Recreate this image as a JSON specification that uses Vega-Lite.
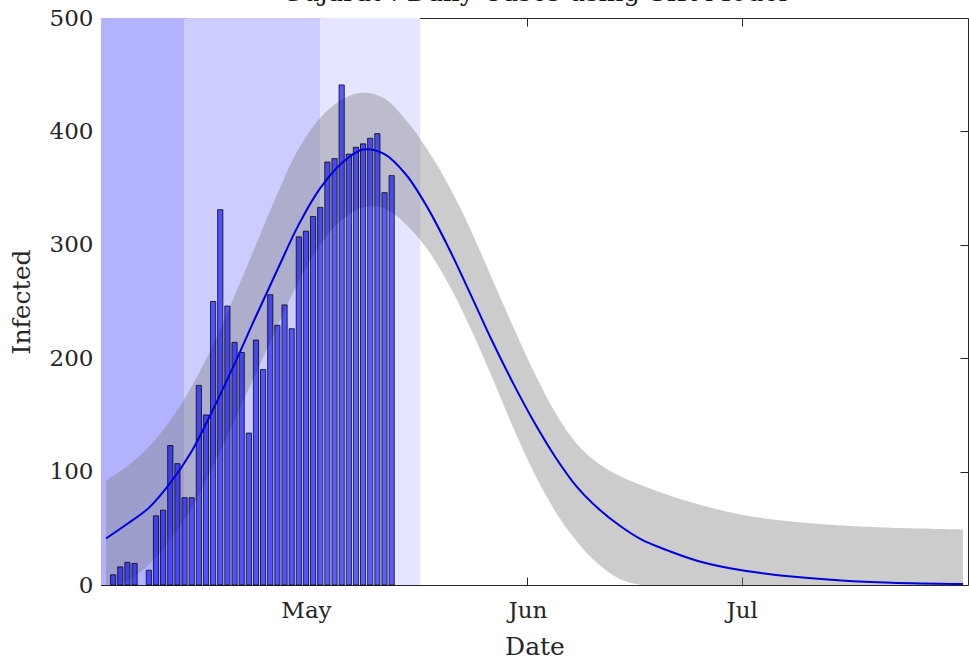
{
  "$schema": "https://vega.github.io/schema/vega-lite/v6.json",
  "width": 867,
  "height": 567,
  "autosize": {"type": "none"},
  "padding": {"left": 101, "top": 18, "right": 1, "bottom": 74},
  "background": "white",
  "title": {"text": "Gujarat : Daily Cases using SIR Model", "font": "DejaVu Serif", "fontSize": 26, "fontWeight": "normal", "color": "#1a1a1a", "anchor": "middle", "baseline": "alphabetic", "offset": 0, "dy": 20},
  "config": {
    "view": {"stroke": null},
    "axis": {"grid": false, "domainColor": "#262626", "domainWidth": 1, "tickColor": "#262626", "tickWidth": 1, "labelColor": "#262626", "titleColor": "#262626", "labelFont": "DejaVu Serif", "titleFont": "DejaVu Serif", "labelFontSize": 23, "titleFontSize": 25, "titleFontWeight": "normal"}
  },
  "datasets": {
    "phases": [
      {"start": "2020-03-25T00:00", "end": "2020-04-14T00:00", "phase": "Lockdown 1"},
      {"start": "2020-04-14T00:00", "end": "2020-05-03T00:00", "phase": "Lockdown 2"},
      {"start": "2020-05-03T00:00", "end": "2020-05-17T00:00", "phase": "Lockdown 3"}
    ],
    "cases": [
      {"date": "2020-04-04T00:00", "infected": 9},
      {"date": "2020-04-05T00:00", "infected": 16},
      {"date": "2020-04-06T00:00", "infected": 20},
      {"date": "2020-04-07T00:00", "infected": 19},
      {"date": "2020-04-09T00:00", "infected": 13},
      {"date": "2020-04-10T00:00", "infected": 61},
      {"date": "2020-04-11T00:00", "infected": 66},
      {"date": "2020-04-12T00:00", "infected": 123},
      {"date": "2020-04-13T00:00", "infected": 107},
      {"date": "2020-04-14T00:00", "infected": 77},
      {"date": "2020-04-15T00:00", "infected": 77},
      {"date": "2020-04-16T00:00", "infected": 176},
      {"date": "2020-04-17T00:00", "infected": 150},
      {"date": "2020-04-18T00:00", "infected": 250},
      {"date": "2020-04-19T00:00", "infected": 331},
      {"date": "2020-04-20T00:00", "infected": 246},
      {"date": "2020-04-21T00:00", "infected": 214},
      {"date": "2020-04-22T00:00", "infected": 205},
      {"date": "2020-04-23T00:00", "infected": 134},
      {"date": "2020-04-24T00:00", "infected": 216},
      {"date": "2020-04-25T00:00", "infected": 190},
      {"date": "2020-04-26T00:00", "infected": 256},
      {"date": "2020-04-27T00:00", "infected": 229},
      {"date": "2020-04-28T00:00", "infected": 247},
      {"date": "2020-04-29T00:00", "infected": 226},
      {"date": "2020-04-30T00:00", "infected": 307},
      {"date": "2020-05-01T00:00", "infected": 312},
      {"date": "2020-05-02T00:00", "infected": 325},
      {"date": "2020-05-03T00:00", "infected": 333},
      {"date": "2020-05-04T00:00", "infected": 373},
      {"date": "2020-05-05T00:00", "infected": 376},
      {"date": "2020-05-06T00:00", "infected": 441},
      {"date": "2020-05-07T00:00", "infected": 380},
      {"date": "2020-05-08T00:00", "infected": 386},
      {"date": "2020-05-09T00:00", "infected": 389},
      {"date": "2020-05-10T00:00", "infected": 394},
      {"date": "2020-05-11T00:00", "infected": 398},
      {"date": "2020-05-12T00:00", "infected": 346},
      {"date": "2020-05-13T00:00", "infected": 361}
    ],
    "model": [
      {"date": "2020-04-03T00:00", "fit": 41, "lower": 0, "upper": 92},
      {"date": "2020-04-06T00:00", "fit": 54, "lower": 4, "upper": 105},
      {"date": "2020-04-09T00:00", "fit": 68, "lower": 18, "upper": 122},
      {"date": "2020-04-12T00:00", "fit": 90, "lower": 40, "upper": 145},
      {"date": "2020-04-15T00:00", "fit": 118, "lower": 68, "upper": 175},
      {"date": "2020-04-18T00:00", "fit": 155, "lower": 105, "upper": 212},
      {"date": "2020-04-21T00:00", "fit": 195, "lower": 145, "upper": 255},
      {"date": "2020-04-24T00:00", "fit": 237, "lower": 187, "upper": 300},
      {"date": "2020-04-27T00:00", "fit": 278, "lower": 228, "upper": 345},
      {"date": "2020-04-30T00:00", "fit": 318, "lower": 268, "upper": 385},
      {"date": "2020-05-03T00:00", "fit": 350, "lower": 300, "upper": 412},
      {"date": "2020-05-06T00:00", "fit": 372, "lower": 322, "upper": 428},
      {"date": "2020-05-09T00:00", "fit": 384, "lower": 333, "upper": 434},
      {"date": "2020-05-12T00:00", "fit": 380, "lower": 332, "upper": 429},
      {"date": "2020-05-15T00:00", "fit": 362, "lower": 318, "upper": 410},
      {"date": "2020-05-18T00:00", "fit": 333, "lower": 296, "upper": 384},
      {"date": "2020-05-21T00:00", "fit": 297, "lower": 265, "upper": 352},
      {"date": "2020-05-24T00:00", "fit": 257, "lower": 227, "upper": 314},
      {"date": "2020-05-27T00:00", "fit": 216, "lower": 184, "upper": 271},
      {"date": "2020-05-30T00:00", "fit": 178, "lower": 139, "upper": 228},
      {"date": "2020-06-02T00:00", "fit": 143, "lower": 98, "upper": 187},
      {"date": "2020-06-05T00:00", "fit": 112, "lower": 64, "upper": 151},
      {"date": "2020-06-08T00:00", "fit": 86, "lower": 38, "upper": 124},
      {"date": "2020-06-11T00:00", "fit": 67, "lower": 18, "upper": 107},
      {"date": "2020-06-14T00:00", "fit": 52, "lower": 5, "upper": 96},
      {"date": "2020-06-17T00:00", "fit": 40, "lower": 0, "upper": 88},
      {"date": "2020-06-20T00:00", "fit": 32, "lower": 0, "upper": 81},
      {"date": "2020-06-25T00:00", "fit": 21, "lower": 0, "upper": 71},
      {"date": "2020-07-01T00:00", "fit": 13, "lower": 0, "upper": 62},
      {"date": "2020-07-08T00:00", "fit": 7.5, "lower": 0, "upper": 56},
      {"date": "2020-07-15T00:00", "fit": 4, "lower": 0, "upper": 52.5},
      {"date": "2020-07-22T00:00", "fit": 2, "lower": 0, "upper": 50.5},
      {"date": "2020-08-01T00:00", "fit": 0.8, "lower": 0, "upper": 49}
    ]
  },
  "layer": [
    {
      "data": {"name": "phases"},
      "mark": {"type": "rect", "clip": true},
      "encoding": {
        "x": {"field": "start", "type": "temporal", "axis": null, "scale": {"type": "time", "domain": [{"year": 2020, "month": 4, "date": 3}, {"year": 2020, "month": 8, "date": 1}], "nice": false}},
        "x2": {"field": "end"},
        "color": {"field": "phase", "type": "nominal", "scale": {"range": ["#b2b2ff", "#ccccff", "#e5e5ff"]}, "legend": null}
      }
    },
    {
      "data": {"name": "model"},
      "mark": {"type": "area", "color": "#808080", "opacity": 0.4, "interpolate": "catmull-rom", "clip": true},
      "encoding": {
        "x": {"field": "date", "type": "temporal", "axis": null},
        "y": {"field": "lower", "type": "quantitative", "axis": null, "scale": {"domain": [0, 500], "nice": false}},
        "y2": {"field": "upper"}
      }
    },
    {
      "data": {"name": "cases"},
      "mark": {"type": "bar", "width": 5.2, "fill": "#0000ff", "fillOpacity": 0.6, "stroke": "#000000", "strokeOpacity": 0.75, "strokeWidth": 1},
      "encoding": {
        "x": {"field": "date", "type": "temporal", "axis": {"orient": "bottom", "values": [{"year": 2020, "month": 5, "date": 1}, {"year": 2020, "month": 6, "date": 1}, {"year": 2020, "month": 7, "date": 1}], "format": "%b", "title": "Date", "tickSize": -8, "labelPadding": 22, "titlePadding": 12}},
        "y": {"field": "infected", "type": "quantitative", "axis": {"orient": "left", "values": [0, 100, 200, 300, 400, 500], "title": "Infected", "tickSize": -8, "labelPadding": 16, "titlePadding": 15}}
      }
    },
    {
      "data": {"name": "model"},
      "mark": {"type": "line", "color": "#0000dd", "strokeWidth": 2, "interpolate": "catmull-rom", "clip": true},
      "encoding": {
        "x": {"field": "date", "type": "temporal", "axis": {"orient": "top", "values": [{"year": 2020, "month": 5, "date": 1}, {"year": 2020, "month": 6, "date": 1}, {"year": 2020, "month": 7, "date": 1}], "labels": false, "title": null, "tickSize": -8}},
        "y": {"field": "fit", "type": "quantitative", "axis": {"orient": "right", "values": [100, 200, 300, 400], "labels": false, "title": null, "tickSize": -8}}
      }
    }
  ],
  "resolve": {"axis": {"x": "independent", "y": "independent"}}
}
